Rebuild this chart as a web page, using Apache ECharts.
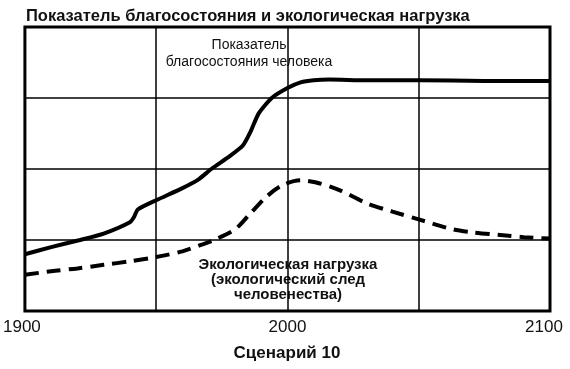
<!DOCTYPE html>
<html><head><meta charset="utf-8">
<script src="https://cdn.jsdelivr.net/npm/echarts@6/dist/echarts.min.js"></script>
<style>html,body{margin:0;padding:0;background:#fff}#c{width:570px;height:369px}</style>
</head><body><div id="c"></div>
<script>
var titleText = 'Показатель благосостояния и экологическая нагрузка';
var xLabelText = 'Сценарий 10';
var welfareLabel = 'Показатель\nблагосостояния человека';
var footprintLabel = 'Экологическая нагрузка\n(экологический след\nчеловенества)';
var shownTicks = [1900, 2000, 2100];

var welfareYears = [1900,1910,1921,1930,1940,1941.5,1943,1950,1960,1966,1971,1978,1983,1986,1989,1994,2000,2005,2010,2016,2030,2050,2075,2100];
var welfareValues = [0.80,0.90,1.00,1.09,1.25,1.32,1.43,1.56,1.73,1.85,2.00,2.18,2.33,2.53,2.78,3.00,3.14,3.22,3.25,3.26,3.25,3.25,3.24,3.24];

var footYears = [1900,1910,1920,1930,1940,1950,1960,1967,1972,1980,1986,1992,1998,2005,2011,2020,2030,2040,2050,2063,2070,2081,2090,2100];
var footValues = [0.51,0.56,0.60,0.65,0.70,0.76,0.84,0.93,1.00,1.15,1.38,1.61,1.77,1.84,1.81,1.70,1.52,1.40,1.29,1.15,1.11,1.07,1.04,1.02];

function zip(a,b){return a.map(function(v,i){return [v,b[i]];});}

var chart = echarts.init(document.getElementById('c'));
chart.setOption({
  animation:false,
  backgroundColor:'#fff',
  title:{text:titleText,left:21,top:3,textStyle:{fontFamily:'Liberation Sans',fontWeight:'bold',fontSize:16.5,color:'#111'}},
  grid:{left:24,right:20,top:27,bottom:58,show:true,borderColor:'#000',borderWidth:3,backgroundColor:'transparent'},
  xAxis:{type:'value',min:1900,max:2100,interval:50,
    axisLine:{show:false},axisTick:{show:false},
    splitLine:{show:true,lineStyle:{color:'#000',width:1.5}},
    axisLabel:{margin:8,color:'#111',fontFamily:'Liberation Sans',fontSize:17,
      formatter:function(v){ if(shownTicks.indexOf(v)<0) return ''; if(v===2100) return '{r|'+v+'}'; if(v===1900) return '{l|'+v+'}'; return ''+v;},
      rich:{r:{padding:[0,12,0,0],fontFamily:'Liberation Sans',fontSize:17,color:'#111'},l:{padding:[0,6,0,0],fontFamily:'Liberation Sans',fontSize:17,color:'#111'}}}},
  yAxis:{type:'value',min:0,max:4,interval:1,
    axisLine:{show:false},axisTick:{show:false},axisLabel:{show:false},
    splitLine:{show:true,lineStyle:{color:'#000',width:1.5}}},
  series:[
    {type:'line',data:zip(welfareYears,welfareValues),smooth:0.2,showSymbol:false,
     lineStyle:{color:'#000',width:4}},
    {type:'line',data:zip(footYears,footValues),smooth:0.3,showSymbol:false,
     lineStyle:{color:'#000',width:4,type:[14,8]}}
  ],
  graphic:[
    {type:'text',style:{text:xLabelText,x:287,y:353,textAlign:'center',textVerticalAlign:'middle',font:'bold 17px "Liberation Sans"',fill:'#111'}},
    {type:'text',style:{text:welfareLabel,x:249,y:37,textAlign:'center',font:'14px "Liberation Sans"',lineHeight:17,fill:'#111'}},
    {type:'text',style:{text:footprintLabel,x:288,y:257,textAlign:'center',font:'bold 15px "Liberation Sans"',lineHeight:15,fill:'#111'}}
  ]
});
</script></body></html>
